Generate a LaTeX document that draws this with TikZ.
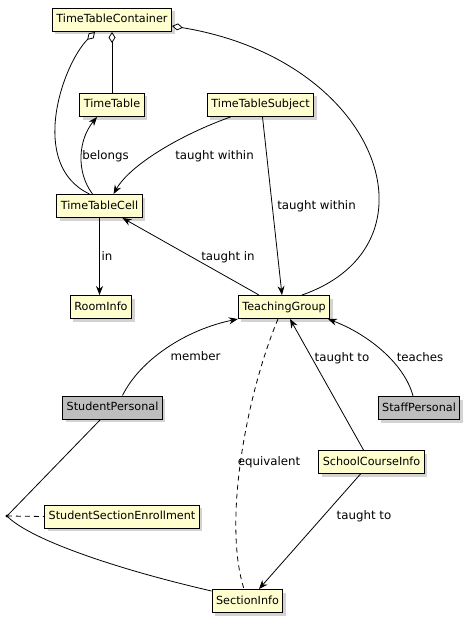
\documentclass[tikz,border=0pt]{standalone}
\usepackage{fontspec}
\setmainfont{DejaVu Sans}
\usetikzlibrary{arrows.meta, shadows}
\definecolor{classyellow}{HTML}{FEFECE}
\definecolor{actorgray}{HTML}{BEBEBE}

\tikzset{
  classbox/.style={draw=black, fill=classyellow, line width=1pt, minimum height=23pt,
    inner xsep=4pt, inner ysep=0pt, text height=8.5pt, text depth=2.5pt,
    font=\fontsize{11.2}{13}\selectfont,
    drop shadow={shadow xshift=3pt, shadow yshift=-3pt, opacity=0.35}},
  greybox/.style={classbox, fill=actorgray},
  edgelabel/.style={font=\fontsize{11.8}{14}\selectfont, inner sep=0pt, text height=8pt, text depth=2.5pt},
  link/.style={line width=0.8pt},
  arrowto/.style={-{Stealth[length=9pt, width=7pt, inset=3pt]}},
  aggfrom/.style={{Diamond[open, length=11pt, width=7pt]}-},
  dashlink/.style={link, dash pattern=on 5pt off 4pt},
}

\begin{document}
\begin{tikzpicture}[x=1pt, y=-1pt]
  \useasboundingbox (0,0) rectangle (469,623);

  % classes
  \node[classbox] (ttcont) at (112,20) {TimeTableContainer};
  \node[classbox] (tt) at (112,105) {TimeTable};
  \node[classbox] (ttsubj) at (260.5,105) {TimeTableSubject};
  \node[classbox] (ttcell) at (99.5,206) {TimeTableCell};
  \node[classbox] (room) at (101,307) {RoomInfo};
  \node[classbox] (tgroup) at (284,307) {TeachingGroup};
  \node[greybox] (student) at (112.5,407.5) {StudentPersonal};
  \node[greybox] (staff) at (419,408) {StaffPersonal};
  \node[classbox] (course) at (371.5,462) {SchoolCourseInfo};
  \node[classbox] (enrol) at (122,516.5) {StudentSectionEnrollment};
  \node[classbox] (section) at (247.5,601) {SectionInfo};
  \coordinate (assoc) at (7,516);

  % aggregations
  \draw[link, aggfrom] (ttcont.south) -- (tt.north);
  \draw[link, aggfrom] ([xshift=-17pt]ttcont.south) .. controls (62,65) and (28,165) .. ([xshift=-10pt]ttcell.north);
  \draw[link, aggfrom] ([yshift=-6pt]ttcont.east) .. controls (380,60) and (445,245) .. ([xshift=18pt]tgroup.north);

  % associations
  \draw[link, arrowto] ([xshift=-7pt]ttcell.north) .. controls (76,172) and (78,140) .. ([xshift=-15pt]tt.south);
  \draw[link, arrowto] ([xshift=-30pt]ttsubj.south) .. controls (180,135) and (130,165) .. ([xshift=14pt]ttcell.north);
  \draw[link, arrowto] ([xshift=2pt]ttsubj.south) -- ([xshift=-2pt]tgroup.north);
  \draw[link, arrowto] ([xshift=-25pt]tgroup.north) -- ([xshift=23pt]ttcell.south);
  \draw[link, arrowto] (ttcell.south) -- (ttcell.south |- room.north);
  \draw[link, arrowto] ([xshift=10pt]student.north) .. controls (140,360) and (185,330) .. (tgroup.south west);
  \draw[link, arrowto] ([xshift=-8pt]course.north) -- ([xshift=6pt]tgroup.south);
  \draw[link, arrowto] ([xshift=-6pt]staff.north) .. controls (405,365) and (370,335) .. ([xshift=44pt]tgroup.south);
  \draw[dashlink] ([xshift=-6pt]tgroup.south) .. controls (248,390) and (222,520) .. ([xshift=-3.5pt]section.north);
  \draw[link, arrowto] ([xshift=-11pt]course.south) -- ([xshift=11.5pt]section.north);

  % association class
  \draw[link] ([xshift=-12pt]student.south) -- (assoc);
  \draw[link] (assoc) .. controls (30,540) and (120,570) .. ([yshift=-2pt]section.north west);
  \draw[dashlink] (assoc) -- (enrol.west);
  \fill (assoc) circle (1.6pt);

  % labels
  \node[edgelabel] (lbelongs) at (105.5,157) {belongs};
  \node[edgelabel] (lwithin1) at (214.5,157) {taught within};
  \node[edgelabel] (lwithin2) at (316.5,207) {taught within};
  \node[edgelabel] (ltaughtin) at (228,258) {taught in};
  \node[edgelabel] (lin) at (107,258) {in};
  \node[edgelabel] (lmember) at (195.5,358) {member};
  \node[edgelabel] (lto1) at (342,359) {taught to};
  \node[edgelabel] (lteaches) at (420,359) {teaches};
  \node[edgelabel] (lequiv) at (269,463) {equivalent};
  \node[edgelabel] (lto2) at (364,517) {taught to};
\end{tikzpicture}
\end{document}
